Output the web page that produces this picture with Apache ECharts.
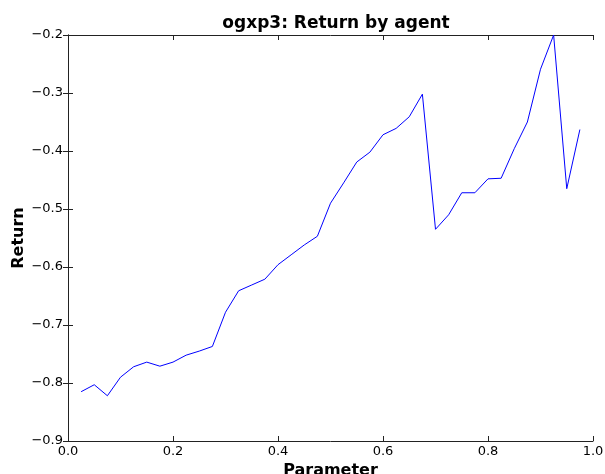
<!DOCTYPE html>
<html>
<head>
<meta charset="utf-8">
<script src="https://cdn.jsdelivr.net/npm/echarts@6/dist/echarts.min.js"></script>
<style>
  html, body { margin: 0; padding: 0; background: #fff; }
  #chart { width: 605px; height: 474px; }
</style>
</head>
<body>
<div id="chart"></div>
<script>
// parameter values on the x axis
var params = [0.025, 0.05, 0.075, 0.1, 0.125, 0.15, 0.175, 0.2, 0.225, 0.25,
  0.275, 0.3, 0.325, 0.35, 0.375, 0.4, 0.425, 0.45, 0.475, 0.5,
  0.525, 0.55, 0.575, 0.6, 0.625, 0.65, 0.675, 0.7, 0.725, 0.75,
  0.775, 0.8, 0.825, 0.85, 0.875, 0.9, 0.925, 0.95, 0.975];
// return by agent
var returns = [-0.815, -0.803, -0.822, -0.790, -0.772, -0.764, -0.771, -0.764, -0.752, -0.745,
  -0.737, -0.678, -0.641, -0.631, -0.621, -0.596, -0.579, -0.562, -0.547, -0.490,
  -0.455, -0.419, -0.402, -0.372, -0.361, -0.341, -0.302, -0.535, -0.510, -0.472,
  -0.472, -0.448, -0.447, -0.396, -0.350, -0.259, -0.200, -0.465, -0.363];

var font = "DejaVu Sans";
function fmt(v) {
  return v.toFixed(1).replace('-', '\u2212');
}

var axisLine = { show: true, lineStyle: { color: '#222', width: 1 } };
var tick = { show: true, inside: true, length: 5, lineStyle: { color: '#222' } };

var option = {
  animation: false,
  title: {
    text: 'ogxp3: Return by agent',
    left: 331, top: 10, textAlign: 'center',
    textStyle: { fontFamily: font, fontWeight: 'bold', fontSize: 17, color: '#000' }
  },
  grid: { left: 68, right: 12, top: 35, bottom: 33, containLabel: false, outerBoundsMode: 'none' },
  // y axis title placed by hand so it sits closer to the tick labels
  graphic: [
    {
      type: 'text', x: 19, y: 238, rotation: Math.PI / 2,
      style: {
        text: 'Return', fontFamily: font, fontWeight: 'bold', fontSize: 16, fill: '#000',
        align: 'center', verticalAlign: 'middle'
      }
    }
  ],
  xAxis: [
    {
      type: 'value', min: 0, max: 1, interval: 0.2,
      name: 'Parameter', nameLocation: 'middle', nameGap: 13,
      nameTextStyle: { fontFamily: font, fontWeight: 'bold', fontSize: 16, color: '#000' },
      axisLine: axisLine, axisTick: tick, splitLine: { show: false },
      axisLabel: { formatter: fmt, fontFamily: font, fontSize: 13, color: '#000', margin: 4 }
    },
    {
      type: 'value', min: 0, max: 1, interval: 0.2, position: 'top',
      axisLine: axisLine, axisTick: tick, splitLine: { show: false },
      axisLabel: { show: false }
    }
  ],
  yAxis: [
    {
      type: 'value', min: -0.9, max: -0.2, interval: 0.1,
      axisLine: axisLine, axisTick: tick, splitLine: { show: false },
      axisLabel: { formatter: fmt, fontFamily: font, fontSize: 13, color: '#000', margin: 5 }
    },
    {
      type: 'value', min: -0.9, max: -0.2, interval: 0.1, position: 'right',
      axisLine: axisLine, axisTick: tick, splitLine: { show: false },
      axisLabel: { show: false }
    }
  ],
  series: [
    {
      type: 'line',
      data: params.map(function (p, i) { return [p, returns[i]]; }),
      showSymbol: false,
      lineStyle: { color: '#0000ff', width: 1 },
      itemStyle: { color: '#0000ff' }
    }
  ]
};

var chart = echarts.init(document.getElementById('chart'));
chart.setOption(option);
</script>
</body>
</html>
